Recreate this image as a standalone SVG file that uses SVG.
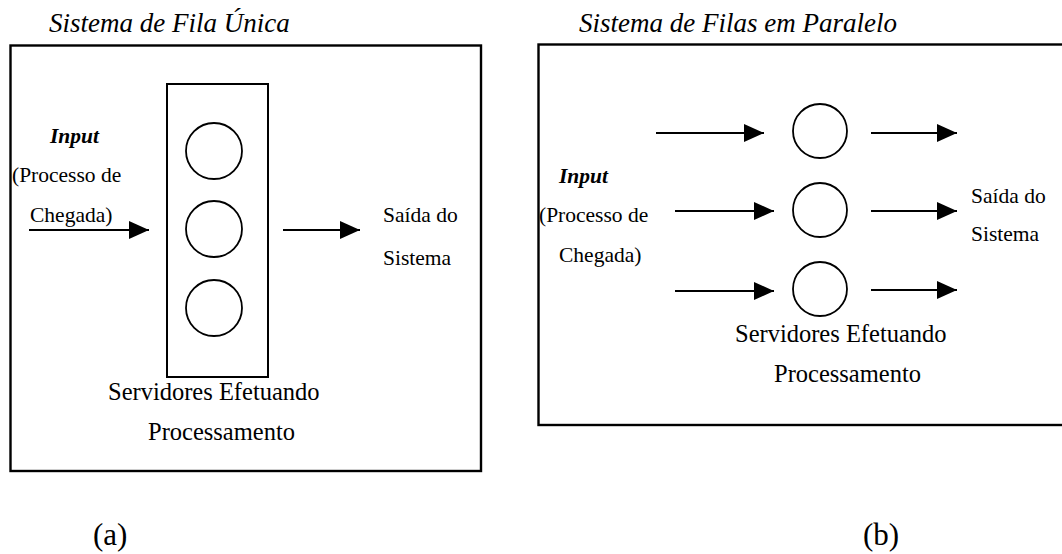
<svg xmlns="http://www.w3.org/2000/svg" width="1062" height="554" viewBox="0 0 1062 554">
<style>
  text { font-family: "Liberation Serif", "Times New Roman", serif; fill: #000; }
  .title { font-size: 27px; font-style: italic; }
  .lbl { font-size: 21.5px; }
  .inp { font-size: 21.5px; font-style: italic; font-weight: bold; }
  .srv { font-size: 24.5px; }
  .cap { font-size: 31px; }
  .box { fill: none; stroke: #000; stroke-width: 2.4; }
  .inner { fill: none; stroke: #000; stroke-width: 2; }
  .srvc { fill: none; stroke: #000; stroke-width: 1.8; }
  .arrow { stroke: #000; stroke-width: 2; marker-end: url(#head); }
</style>
<defs>
  <marker id="head" markerUnits="userSpaceOnUse" markerWidth="20" markerHeight="18" refX="20" refY="9" orient="auto">
    <path d="M0,0 L20,9 L0,18 Z" fill="#000"/>
  </marker>
</defs>
<rect width="1062" height="554" fill="#fff"/>

<g id="panel-a">
  <text class="title" x="49" y="32">Sistema de Fila Única</text>
  <rect class="box" x="10.5" y="45.5" width="470.5" height="425.5"/>
  <text class="cap" x="93" y="545">(a)</text>
</g>
<g id="a-input">
  <text class="inp" x="50" y="143">Input</text>
  <text class="lbl" x="12" y="182">(Processo de</text>
  <text class="lbl" x="30" y="222">Chegada)</text>
</g>
<g id="a-servers">
  <rect class="inner" x="167" y="84" width="101" height="293"/>
  <circle class="srvc" cx="214" cy="151" r="28"/>
  <circle class="srvc" cx="214" cy="229" r="28"/>
  <circle class="srvc" cx="214" cy="308" r="28"/>
  <text class="srv" x="108" y="400">Servidores Efetuando</text>
  <text class="srv" x="148" y="440">Processamento</text>
</g>
<g id="a-output">
  <text class="lbl" x="383" y="222">Saída do</text>
  <text class="lbl" x="383" y="265">Sistema</text>
</g>

<g id="panel-b">
  <text class="title" x="579" y="32">Sistema de Filas em Paralelo</text>
  <rect class="box" x="538.5" y="44.5" width="530" height="380.5"/>
  <text class="cap" x="863" y="545">(b)</text>
</g>
<g id="b-input">
  <text class="inp" x="559" y="183">Input</text>
  <text class="lbl" x="539" y="222">(Processo de</text>
  <text class="lbl" x="559" y="262">Chegada)</text>
</g>
<g id="b-servers">
  <circle class="srvc" cx="820" cy="131" r="27"/>
  <circle class="srvc" cx="820" cy="210" r="27"/>
  <circle class="srvc" cx="820" cy="289" r="27"/>
  <text class="srv" x="735" y="342">Servidores Efetuando</text>
  <text class="srv" x="774" y="382">Processamento</text>
</g>
<g id="b-output">
  <text class="lbl" x="971" y="203">Saída do</text>
  <text class="lbl" x="971" y="241">Sistema</text>
</g>

<g id="connectors">
  <line class="arrow" x1="29" y1="230" x2="149" y2="230"/>
  <line class="arrow" x1="283" y1="230" x2="360" y2="230"/>
  <line class="arrow" x1="656" y1="133" x2="764" y2="133"/>
  <line class="arrow" x1="675" y1="211" x2="774" y2="211"/>
  <line class="arrow" x1="675" y1="291" x2="774" y2="291"/>
  <line class="arrow" x1="871" y1="133" x2="957" y2="133"/>
  <line class="arrow" x1="871" y1="211" x2="957" y2="211"/>
  <line class="arrow" x1="871" y1="290" x2="957" y2="290"/>
</g>
</svg>
